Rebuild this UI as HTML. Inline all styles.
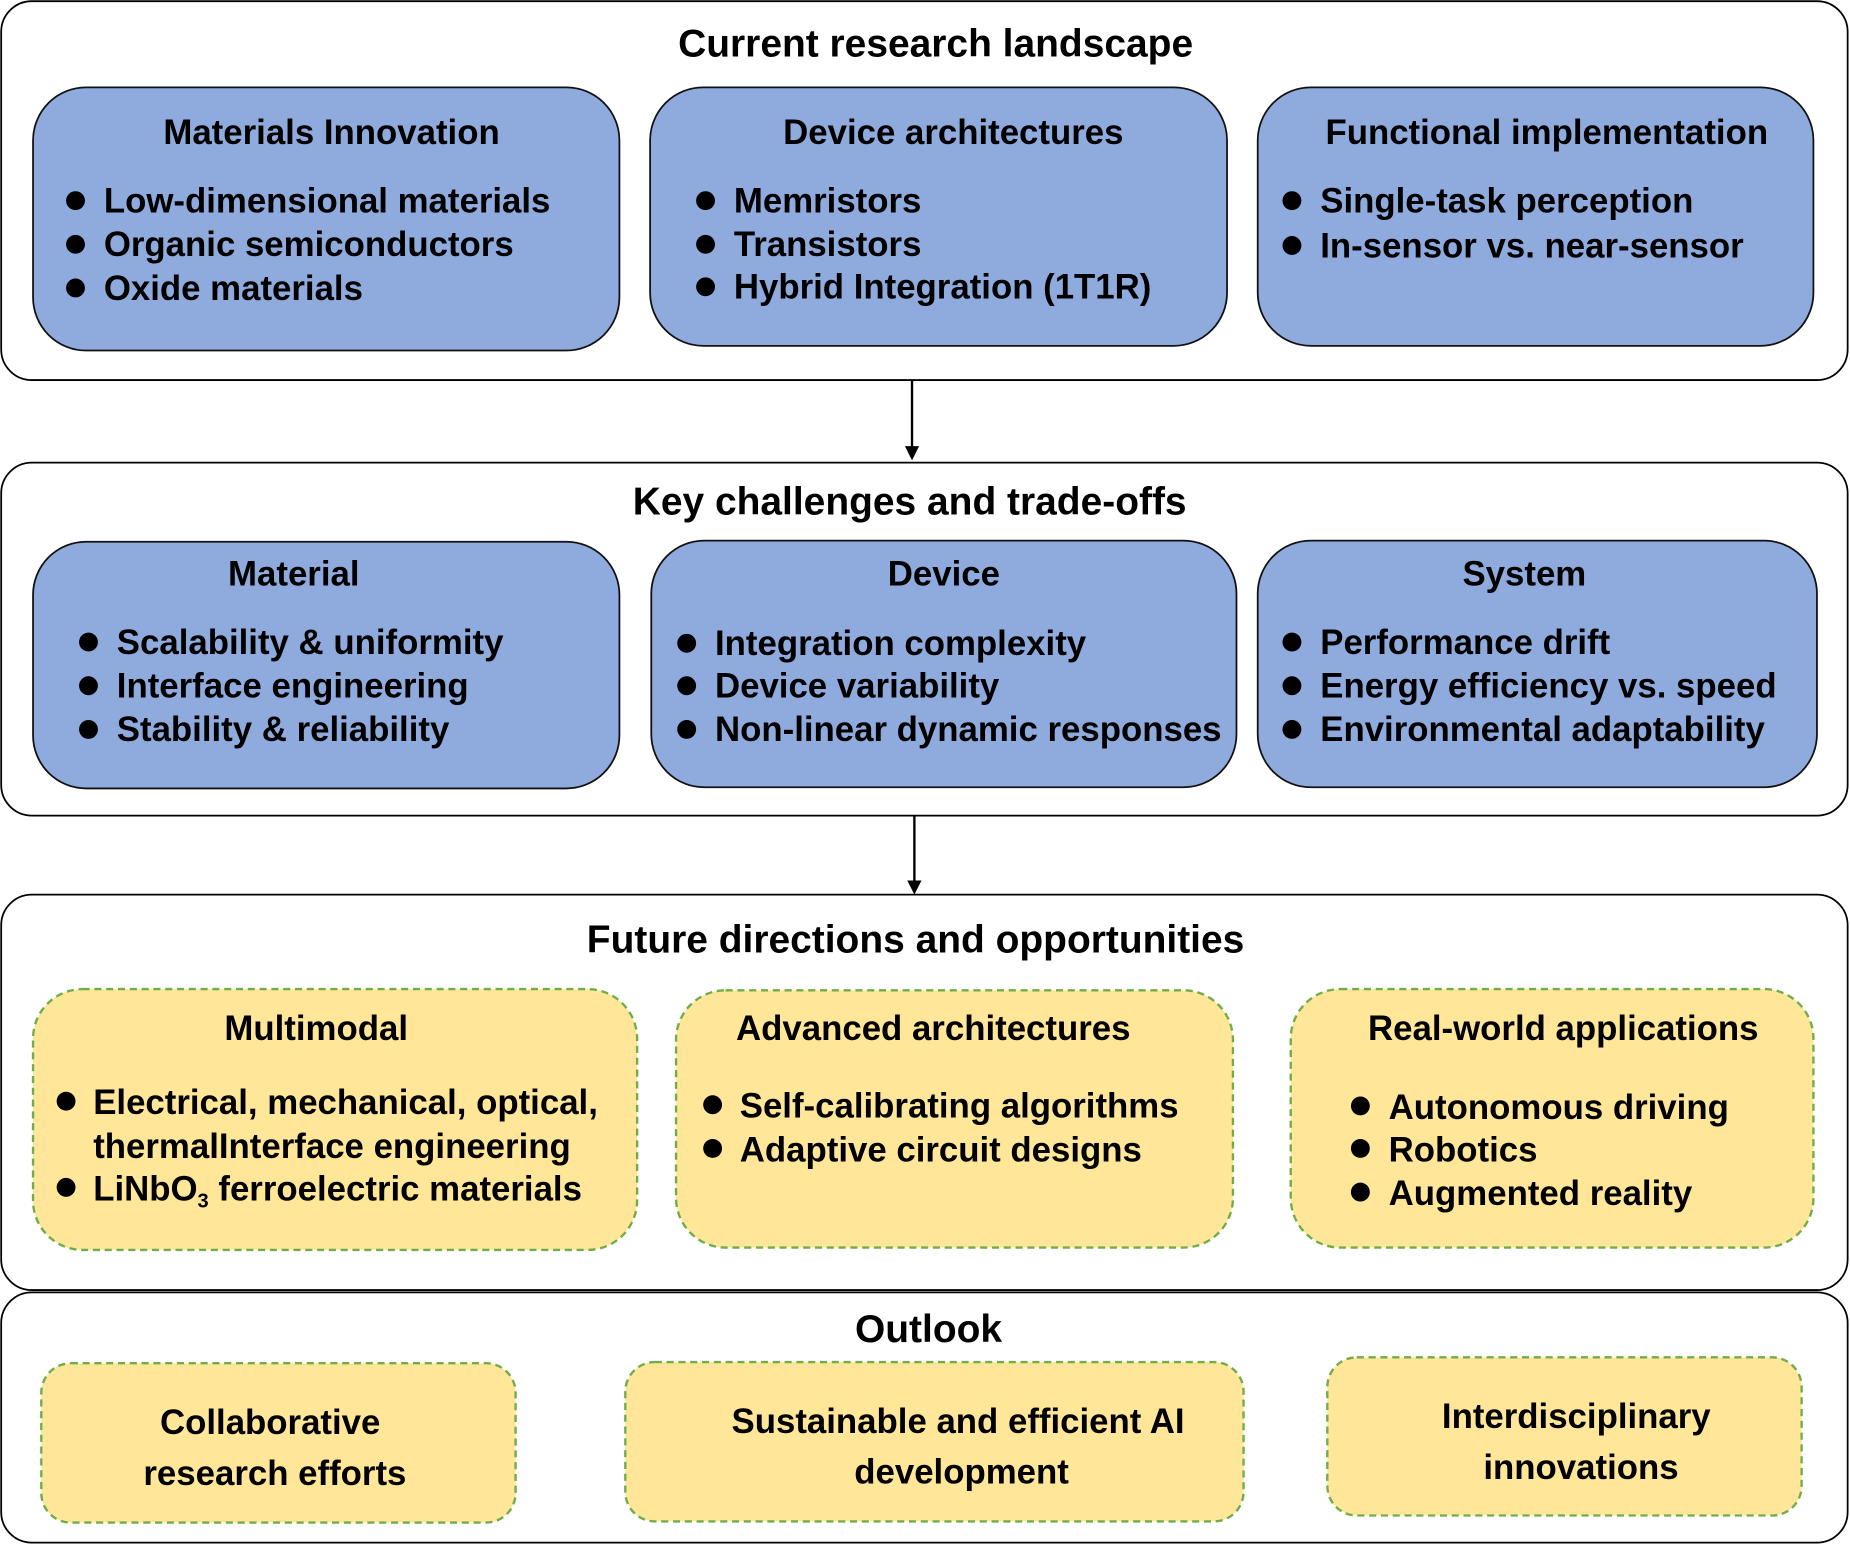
<!DOCTYPE html>
<html><head><meta charset="utf-8"><style>
html,body{margin:0;padding:0;background:#fff;}
svg{display:block;}
text{font-family:"Liberation Sans",Arial,sans-serif;font-weight:bold;fill:#000;}
.h{font-size:33px;text-anchor:middle;}
.t{font-size:29.5px;text-anchor:middle;}
.b{font-size:29.5px;}
.outer{fill:#fff;stroke:#000;stroke-width:1.5;}
.blue{fill:#8FAADC;stroke:#111;stroke-width:1.5;}
.yel{fill:#FFE699;stroke:#70AD47;stroke-width:2;stroke-dasharray:6 4;}
</style></head><body>
<svg width="1850" height="1545" viewBox="0 0 1568 1309" preserveAspectRatio="none" xmlns="http://www.w3.org/2000/svg">
<rect class="outer" x="1" y="1" width="1565" height="321" rx="26"/>
<rect class="outer" x="1" y="392" width="1565" height="299" rx="26"/>
<rect class="outer" x="1" y="758" width="1565" height="335" rx="26"/>
<rect class="outer" x="1" y="1095" width="1565" height="212" rx="26"/>
<line x1="773" y1="322" x2="773" y2="380" stroke="#000" stroke-width="2"/>
<path d="M767,378 L779,378 L773,390 z" fill="#000"/>
<line x1="775" y1="691" x2="775" y2="748" stroke="#000" stroke-width="2"/>
<path d="M769,746 L781,746 L775,758 z" fill="#000"/>

<text class="h" x="793" y="48">Current research landscape</text>
<rect class="blue" x="28" y="74" width="497" height="223" rx="45"/>
<rect class="blue" x="551" y="74" width="489" height="219" rx="45"/>
<rect class="blue" x="1066" y="74" width="471" height="219" rx="45"/>
<text class="t" x="281" y="122">Materials Innovation</text>
<text class="t" x="808" y="122">Device architectures</text>
<text class="t" x="1311" y="122">Functional implementation</text>
<circle cx="64" cy="170" r="8"/><text class="b" x="88" y="180">Low-dimensional materials</text>
<circle cx="64" cy="207" r="8"/><text class="b" x="88" y="217">Organic semiconductors</text>
<circle cx="64" cy="244" r="8"/><text class="b" x="88" y="254">Oxide materials</text>
<circle cx="598" cy="170" r="8"/><text class="b" x="622" y="180">Memristors</text>
<circle cx="598" cy="207" r="8"/><text class="b" x="622" y="217">Transistors</text>
<circle cx="598" cy="243" r="8"/><text class="b" x="622" y="253">Hybrid Integration (1T1R)</text>
<circle cx="1095" cy="170" r="8"/><text class="b" x="1119" y="180">Single-task perception</text>
<circle cx="1095" cy="208" r="8"/><text class="b" x="1119" y="218">In-sensor vs. near-sensor</text>

<text class="h" x="771" y="436">Key challenges and trade-offs</text>
<rect class="blue" x="28" y="459" width="497" height="209" rx="45"/>
<rect class="blue" x="552" y="458" width="496" height="209" rx="45"/>
<rect class="blue" x="1066" y="458" width="474" height="209" rx="45"/>
<text class="t" x="249" y="496">Material</text>
<text class="t" x="800" y="496">Device</text>
<text class="t" x="1292" y="496">System</text>
<circle cx="75" cy="544" r="8"/><text class="b" x="99" y="554">Scalability &amp; uniformity</text>
<circle cx="75" cy="581" r="8"/><text class="b" x="99" y="591">Interface engineering</text>
<circle cx="75" cy="618" r="8"/><text class="b" x="99" y="628">Stability &amp; reliability</text>
<circle cx="582" cy="545" r="8"/><text class="b" x="606" y="555">Integration complexity</text>
<circle cx="582" cy="581" r="8"/><text class="b" x="606" y="591">Device variability</text>
<circle cx="582" cy="618" r="8"/><text class="b" x="606" y="628">Non-linear dynamic responses</text>
<circle cx="1095" cy="544" r="8"/><text class="b" x="1119" y="554">Performance drift</text>
<circle cx="1095" cy="581" r="8"/><text class="b" x="1119" y="591">Energy efficiency vs. speed</text>
<circle cx="1095" cy="618" r="8"/><text class="b" x="1119" y="628">Environmental adaptability</text>

<text class="h" x="776" y="807">Future directions and opportunities</text>
<rect class="yel" x="28" y="838" width="512" height="221" rx="42"/>
<rect class="yel" x="573" y="839" width="472" height="218" rx="42"/>
<rect class="yel" x="1094" y="838" width="443" height="219" rx="42"/>
<text class="t" x="268" y="881">Multimodal</text>
<text class="t" x="791" y="881">Advanced architectures</text>
<text class="t" x="1325" y="881">Real-world applications</text>
<circle cx="56" cy="933" r="8"/><text class="b" x="79" y="944">Electrical, mechanical, optical,</text>
<text class="b" x="79" y="981">thermalInterface engineering</text>
<circle cx="56" cy="1006" r="8"/><text class="b" x="79" y="1017">LiNbO<tspan font-size="17" dy="6">3</tspan><tspan dy="-6"> ferroelectric materials</tspan></text>
<circle cx="604" cy="936" r="8"/><text class="b" x="627" y="947">Self-calibrating algorithms</text>
<circle cx="604" cy="973" r="8"/><text class="b" x="627" y="984">Adaptive circuit designs</text>
<circle cx="1153" cy="937" r="8"/><text class="b" x="1177" y="948">Autonomous driving</text>
<circle cx="1153" cy="973" r="8"/><text class="b" x="1177" y="984">Robotics</text>
<circle cx="1153" cy="1010" r="8"/><text class="b" x="1177" y="1021">Augmented reality</text>

<text class="h" x="787" y="1137">Outlook</text>
<rect class="yel" x="35" y="1155" width="402" height="135" rx="25"/>
<rect class="yel" x="530" y="1154" width="524" height="135" rx="25"/>
<rect class="yel" x="1125" y="1150" width="402" height="134" rx="25"/>
<text class="t" x="229" y="1215">Collaborative</text>
<text class="t" x="233" y="1258">research efforts</text>
<text class="t" x="812" y="1214">Sustainable and efficient AI</text>
<text class="t" x="815" y="1257">development</text>
<text class="t" x="1336" y="1210">Interdisciplinary</text>
<text class="t" x="1340" y="1253">innovations</text>
</svg>
</body></html>
